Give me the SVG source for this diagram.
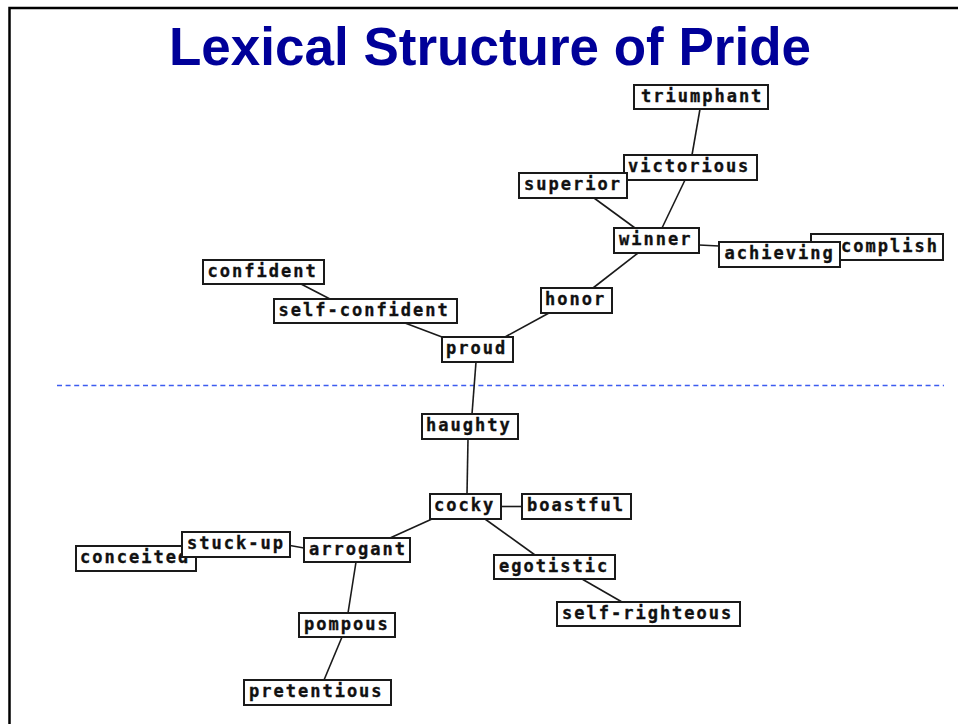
<svg xmlns="http://www.w3.org/2000/svg" width="958" height="724" viewBox="0 0 958 724">
<style>
.bg{fill:#ffffff}
.frame{fill:none;stroke:#000;stroke-width:2.5}
.title{font-family:"Liberation Sans",Arial,sans-serif;font-weight:bold;font-size:54px;fill:#000099}
.box{fill:#ffffff;stroke:#1a1a1a;stroke-width:2}
.lbl{font-family:"DejaVu Sans Mono","Liberation Mono",monospace;font-weight:bold;font-size:17px;letter-spacing:2px;fill:#111;stroke:#111;stroke-width:0.35}
.edge{stroke:#1a1a1a;stroke-width:1.6;fill:none}
.divider{stroke:#3d5cf0;stroke-width:1.6;stroke-dasharray:5 3.6;fill:none}
</style>
<rect class="bg" x="0" y="0" width="958" height="724"/>
<path class="frame" d="M9.5,724 V8 H958"/>
<text class="title" x="490" y="65" text-anchor="middle" textLength="642" lengthAdjust="spacingAndGlyphs">Lexical Structure of Pride</text>
<line class="divider" x1="57" y1="385.5" x2="944" y2="385.5"/>
<g id="connectors">
<line class="edge" x1="700" y1="109" x2="692" y2="155"/>
<line class="edge" x1="594" y1="198" x2="635" y2="228"/>
<line class="edge" x1="685" y1="180" x2="662" y2="228"/>
<line class="edge" x1="699" y1="245" x2="719" y2="246"/>
<line class="edge" x1="638" y1="253" x2="593" y2="288"/>
<line class="edge" x1="301" y1="284" x2="330" y2="299"/>
<line class="edge" x1="405" y1="323" x2="442" y2="337"/>
<line class="edge" x1="549" y1="313" x2="505" y2="337"/>
<line class="edge" x1="476" y1="362" x2="472" y2="414"/>
<line class="edge" x1="468" y1="439" x2="467" y2="494"/>
<line class="edge" x1="501" y1="506.5" x2="522" y2="506.5"/>
<line class="edge" x1="485" y1="519" x2="535" y2="555"/>
<line class="edge" x1="582" y1="579" x2="622" y2="602"/>
<line class="edge" x1="432" y1="519" x2="390" y2="538"/>
<line class="edge" x1="290" y1="545.5" x2="304" y2="548"/>
<line class="edge" x1="356" y1="562" x2="348" y2="613"/>
<line class="edge" x1="342" y1="637" x2="324" y2="680"/>
</g>
<g id="n-triumphant"><rect class="box" x="634" y="85" width="134" height="24"/><text class="lbl" x="641" y="101.5">triumphant</text></g>
<g id="n-victorious"><rect class="box" x="624" y="155" width="133" height="25"/><text class="lbl" x="628" y="172">victorious</text></g>
<g id="n-superior"><rect class="box" x="519" y="173" width="108" height="25"/><text class="lbl" x="524" y="190">superior</text></g>
<g id="n-winner"><rect class="box" x="614" y="228" width="85" height="25"/><text class="lbl" x="619" y="245">winner</text></g>
<g id="n-accomplish"><rect class="box" x="811" y="234" width="132" height="26"/><text class="lbl" x="841" y="251.5">complish</text></g>
<g id="n-achieving"><rect class="box" x="719" y="242" width="121" height="25"/><text class="lbl" x="724.5" y="259">achieving</text></g>
<g id="n-confident"><rect class="box" x="203" y="260" width="121" height="24"/><text class="lbl" x="207.5" y="276.5">confident</text></g>
<g id="n-self-confident"><rect class="box" x="274" y="299" width="183" height="24"/><text class="lbl" x="278.5" y="315.5">self-confident</text></g>
<g id="n-honor"><rect class="box" x="541" y="288" width="71" height="25"/><text class="lbl" x="545" y="305">honor</text></g>
<g id="n-proud"><rect class="box" x="442" y="337" width="71" height="25"/><text class="lbl" x="446" y="354">proud</text></g>
<g id="n-haughty"><rect class="box" x="422" y="414" width="96" height="25"/><text class="lbl" x="426" y="431">haughty</text></g>
<g id="n-cocky"><rect class="box" x="430" y="494" width="71" height="25"/><text class="lbl" x="434" y="511">cocky</text></g>
<g id="n-boastful"><rect class="box" x="522" y="494" width="109" height="25"/><text class="lbl" x="527" y="511">boastful</text></g>
<g id="n-egotistic"><rect class="box" x="494" y="555" width="121" height="24"/><text class="lbl" x="499" y="571.5">egotistic</text></g>
<g id="n-self-righteous"><rect class="box" x="557" y="602" width="183" height="24"/><text class="lbl" x="562" y="618.5">self-righteous</text></g>
<g id="n-conceited"><rect class="box" x="76" y="546" width="120" height="25"/><text class="lbl" x="80" y="563">conceited</text></g>
<g id="n-stuck-up"><rect class="box" x="182" y="532" width="108" height="25"/><text class="lbl" x="187" y="549">stuck-up</text></g>
<g id="n-arrogant"><rect class="box" x="304" y="538" width="106" height="24"/><text class="lbl" x="309" y="554.5">arrogant</text></g>
<g id="n-pompous"><rect class="box" x="299" y="613" width="96" height="24"/><text class="lbl" x="304" y="629.5">pompous</text></g>
<g id="n-pretentious"><rect class="box" x="244" y="680" width="147" height="25"/><text class="lbl" x="249" y="697">pretentious</text></g>
</svg>
